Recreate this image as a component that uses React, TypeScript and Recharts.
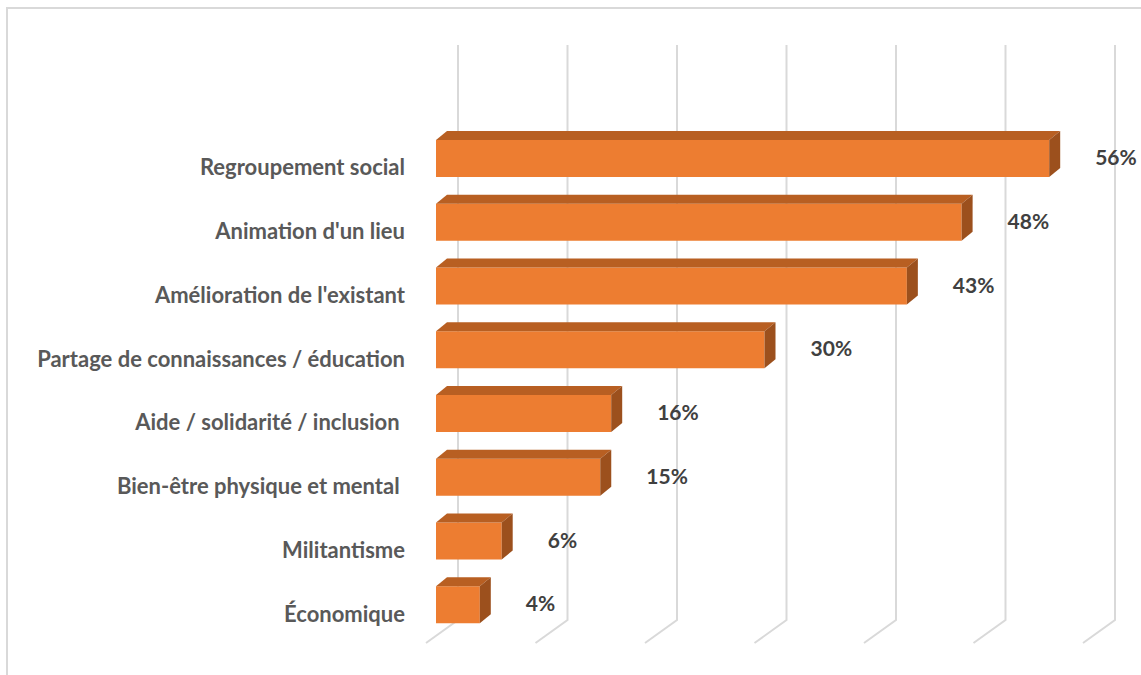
import React from "react";
import { BarChart, Bar, XAxis, YAxis, CartesianGrid, LabelList } from "recharts";

const categories = [
  "Regroupement social",
  "Animation d'un lieu",
  "Amélioration de l'existant",
  "Partage de connaissances / éducation",
  "Aide / solidarité / inclusion ",
  "Bien-être physique et mental ",
  "Militantisme",
  "Économique",
];
const values = [56, 48, 43, 30, 16, 15, 6, 4];
const xTicks = [0, 10, 20, 30, 40, 50, 60];

const data = categories.map((name, i) => ({ name, value: values[i] }));

const FONT = "Lato, 'Open Sans', sans-serif";
const DEPTH_X = 11;
const DEPTH_Y = 9;

const Box3D = (props: any) => {
  const { x, y, width, height } = props;
  if (width == null || height == null) return null;
  const r = x + width;
  return (
    <g>
      <rect x={x} y={y} width={width} height={height} fill="#ED7D31" />
      <polygon
        points={`${x},${y} ${x + DEPTH_X},${y - DEPTH_Y} ${r + DEPTH_X},${y - DEPTH_Y} ${r},${y}`}
        fill="#B85F22"
      />
      <polygon
        points={`${r},${y} ${r + DEPTH_X},${y - DEPTH_Y} ${r + DEPTH_X},${y + height - DEPTH_Y} ${r},${y + height}`}
        fill="#9C501D"
      />
    </g>
  );
};

const GridLine = (props: any) => {
  const { x1, y1, y2, key } = props;
  const bx = x1 + 22;
  return (
    <path
      key={key}
      d={`M${bx},${y1 - 82} L${bx},${y2 - 17} L${x1 - 10},${y2 + 6}`}
      stroke="#d9d9d9"
      strokeWidth={2}
      fill="none"
    />
  );
};

const CategoryTick = (props: any) => {
  const { x, y, payload } = props;
  return (
    <text
      x={x}
      y={y + 8}
      textAnchor="end"
      dominantBaseline="central"
      fill="#595959"
      fontFamily={FONT}
      fontWeight={700}
      fontSize={22}
      style={{ whiteSpace: "pre" }}
    >
      {payload.value}
    </text>
  );
};

const ValueLabel = (props: any) => {
  const { x, y, width, height, value } = props;
  return (
    <text
      x={x + width + 46}
      y={y + height / 2 - 2}
      dominantBaseline="central"
      fill="#404040"
      fontFamily={FONT}
      fontWeight={700}
      fontSize={21}
    >
      {value}%
    </text>
  );
};

const EmptyTick = () => <g />;

export default function App() {
  return (
    <div
      style={{
        position: "fixed",
        left: 0,
        top: 0,
        width: 1141,
        height: 675,
        overflow: "hidden",
        background: "#fff",
      }}
    >
      <div
        style={{
          position: "absolute",
          left: 6,
          top: 7,
          width: 1300,
          height: 800,
          borderLeft: "2px solid #d9d9d9",
          borderTop: "2px solid #d9d9d9",
        }}
      />
      <div style={{ position: "absolute", left: 0, top: 0 }}>
        <BarChart
          width={1141}
          height={675}
          data={data}
          layout="vertical"
          barSize={37}
          margin={{ top: 127, right: 48, left: 0, bottom: 37 }}
        >
          <CartesianGrid horizontal={false} vertical={GridLine} />
          <XAxis
            type="number"
            domain={[0, 60]}
            ticks={xTicks}
            interval={0}
            tick={EmptyTick}
            axisLine={false}
            tickLine={false}
            height={1}
          />
          <YAxis
            type="category"
            dataKey="name"
            width={436}
            axisLine={false}
            tickLine={false}
            tickSize={0}
            tickMargin={31}
            interval={0}
            tick={CategoryTick}
          />
          <Bar dataKey="value" shape={Box3D} isAnimationActive={false}>
            <LabelList dataKey="value" content={ValueLabel} />
          </Bar>
        </BarChart>
      </div>
    </div>
  );
}
